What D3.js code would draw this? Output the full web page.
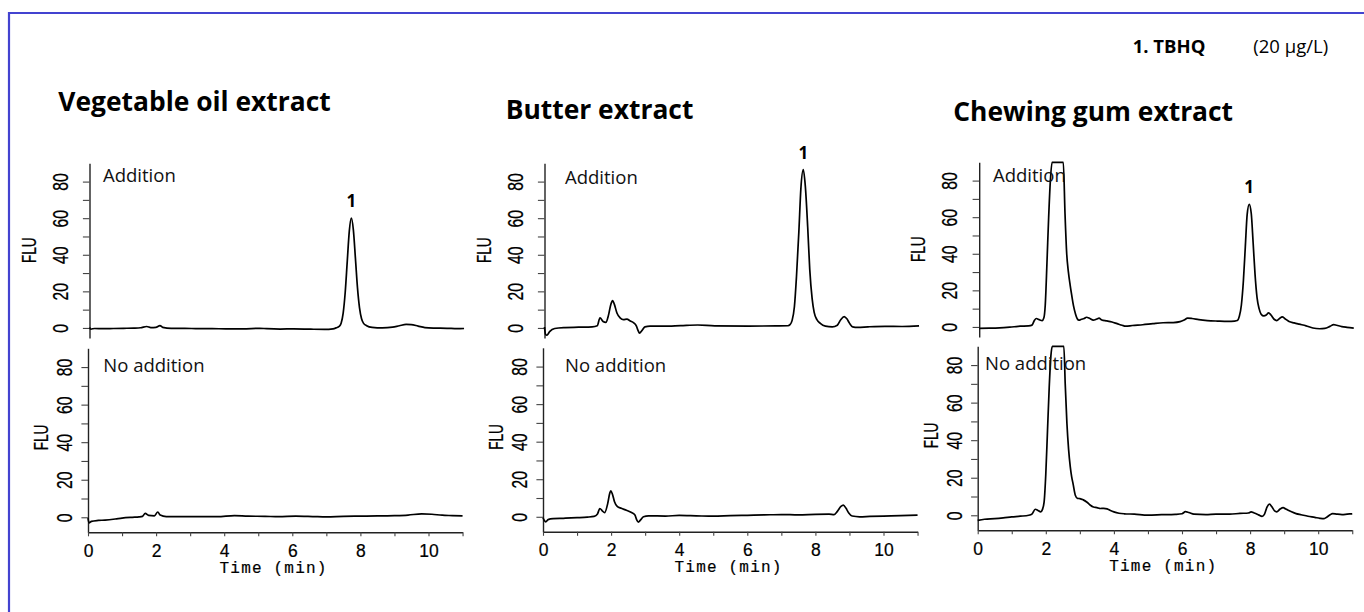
<!DOCTYPE html>
<html><head><meta charset="utf-8">
<script src="https://cdn.jsdelivr.net/npm/d3@7/dist/d3.min.js"></script>
<style>
html,body{margin:0;padding:0;background:#fff;}
svg{display:block;}
</style></head>
<body><svg id="c" width="1364" height="612"></svg>
<script>
// ---------------- DATA ----------------
const panelTitles = ["Vegetable oil extract", "Butter extract", "Chewing gum extract"];
const rowLabels = ["Addition", "No addition"];
const legendCompound = "1. TBHQ";
const legendConc = "(20 µg/L)";
const peakLabel = "1";
const peakTimes = [7.69, 7.60, 7.93];
const peakHeights = [60, 86.5, 67];
const xTickValues = [0,1,2,3,4,5,6,7,8,9,10,11];
const xTickLabels = [0,2,4,6,8,10];
const yTickValues = [0,10,20,30,40,50,60,70,80];
const yTickLabels = [0,20,40,60,80];
const xTitle = "Time (min)";
const yTitle = "FLU";

// [time (min), FLU]
const vegAdd = [[0,0.2],[0.04,-0.6],[0.15,-0.3],[0.4,-0.4],[0.7,-0.3],[1.0,-0.2],[1.3,-0.1],[1.5,0.1],[1.68,0.8],[1.8,0.2],[1.95,0.3],[2.07,1.3],[2.15,0.3],[2.4,-0.2],[2.8,-0.2],[3.2,-0.4],[3.6,-0.4],[4.0,-0.5],[4.5,-0.5],[5.0,-0.2],[5.2,-0.4],[5.6,-0.6],[6.0,-0.5],[6.5,-0.7],[6.9,-0.8],[7.15,-0.5],[7.25,0.1],[7.33,0.8],[7.39,2.6],[7.45,8.1],[7.51,19.5],[7.57,36.4],[7.63,52.9],[7.69,60],[7.75,53.5],[7.81,38],[7.87,22],[7.93,11],[7.99,5],[8.05,2.5],[8.14,1.2],[8.3,0.3],[8.6,0],[8.9,0.4],[9.1,1.2],[9.3,1.9],[9.45,1.8],[9.65,1.0],[9.85,0.2],[10.1,-0.1],[10.5,-0.2],[10.8,-0.4],[11,-0.3]];
const vegNone = [[0,-0.5],[0.03,-3],[0.1,-2.2],[0.3,-1.7],[0.5,-1.5],[0.8,-0.9],[1.0,-0.4],[1.3,0],[1.5,0.2],[1.6,0.5],[1.68,2.1],[1.78,1.0],[1.95,0.8],[2.05,2.8],[2.12,1.2],[2.3,0.4],[2.8,0.3],[3.3,0.4],[3.8,0.3],[4.3,0.9],[4.7,0.6],[5.2,0.5],[5.6,0.3],[6.1,0.6],[6.6,0.4],[7.0,0.2],[7.5,0.5],[8.0,0.6],[8.5,0.7],[9.0,0.9],[9.4,1.2],[9.8,1.8],[10.1,1.6],[10.4,1.1],[10.7,0.9],[11,0.7]];
const butAdd = [[0,0.5],[0.03,-3.5],[0.07,-4],[0.15,-2],[0.3,-0.3],[0.6,0.2],[1.0,0.4],[1.4,0.6],[1.55,1.2],[1.63,5.5],[1.72,3.5],[1.8,3],[1.88,7],[1.95,13],[2.0,15],[2.05,13],[2.13,8],[2.22,5.5],[2.32,4.5],[2.42,4.8],[2.52,3.8],[2.62,2.8],[2.7,1],[2.75,-1.5],[2.79,-2.8],[2.86,-1.5],[2.95,0.6],[3.1,1],[3.5,1],[4.0,1.3],[4.5,1.6],[5.0,1.1],[6.0,1],[6.8,1.1],[7.15,1.2],[7.21,1.8],[7.27,4],[7.34,11.7],[7.40,28],[7.47,52.5],[7.53,76.3],[7.60,86.5],[7.66,77.5],[7.73,55],[7.79,32],[7.86,16],[7.92,8.5],[8.0,4.5],[8.1,2.5],[8.25,1],[8.45,0.6],[8.6,1.5],[8.7,4.5],[8.8,6.2],[8.88,5],[8.96,2.5],[9.05,0.6],[9.2,0.3],[9.5,0.6],[10.0,0.9],[10.5,0.8],[11,1.1]];
const butNone = [[0,-0.5],[0.04,-2],[0.08,-2.7],[0.15,-1.5],[0.3,-1.0],[0.6,-0.8],[1.0,-0.5],[1.3,-0.2],[1.5,0.2],[1.6,1.5],[1.67,4.4],[1.74,3.2],[1.81,2.2],[1.9,7],[1.96,12.5],[1.99,13.8],[2.04,12],[2.1,8],[2.18,5.5],[2.3,4.5],[2.45,3.5],[2.6,2.3],[2.7,1],[2.75,-1.5],[2.8,-2.8],[2.86,-1.8],[2.95,0],[3.1,0.5],[3.6,0.4],[4.0,0.7],[4.5,0.5],[5.0,0.3],[5.5,0.6],[6.0,0.8],[6.5,1.0],[7.0,1.2],[7.5,1.0],[8.0,1.3],[8.4,1.4],[8.55,1.2],[8.65,3],[8.75,5.5],[8.82,6.2],[8.9,4.5],[8.98,2],[9.08,0.4],[9.3,0],[9.6,0.2],[10.0,0.4],[10.5,0.6],[11,0.9]];
const gumAdd = [[0,-0.8],[0.3,-0.7],[0.6,-0.5],[0.9,-0.1],[1.2,0.4],[1.45,0.6],[1.55,1],[1.62,3.5],[1.68,4.6],[1.76,4],[1.85,3.5],[1.9,5],[1.94,12],[1.99,35],[2.04,60],[2.09,80],[2.14,92],[2.3,100],[2.47,95],[2.52,62],[2.57,40],[2.62,30],[2.67,23],[2.72,17],[2.77,11.5],[2.83,7],[2.88,4.5],[2.93,3.7],[3.0,4.2],[3.08,4.6],[3.15,5.3],[3.25,4.6],[3.35,3.7],[3.45,4.3],[3.52,4.8],[3.6,3.8],[3.75,3.3],[3.9,2.7],[4.05,1.8],[4.2,0.9],[4.3,0.4],[4.5,0.8],[4.8,1.2],[5.1,1.8],[5.4,2.3],[5.7,2.4],[5.9,2.9],[6.02,3.8],[6.12,4.8],[6.25,4.6],[6.45,4],[6.7,3.5],[7.0,3.2],[7.3,3.0],[7.5,3.2],[7.58,3.5],[7.64,5.8],[7.70,12],[7.76,25.5],[7.815,43.7],[7.87,61.5],[7.93,67],[7.99,62],[8.045,46],[8.10,29],[8.16,16],[8.22,10],[8.28,7],[8.36,6],[8.43,6.5],[8.5,7.7],[8.57,6.5],[8.66,4.2],[8.74,3.5],[8.82,4.6],[8.9,5.5],[8.98,4.5],[9.1,3],[9.25,2.2],[9.4,1.5],[9.6,0.6],[9.8,-0.6],[10.0,-1],[10.15,-0.8],[10.3,0.3],[10.41,1.3],[10.5,0.9],[10.65,0.2],[10.8,-0.2],[11,-0.6]];
const gumNone = [[0,-2.7],[0.2,-2.1],[0.5,-1.8],[0.75,-1.4],[1.0,-0.9],[1.25,-0.5],[1.5,0],[1.6,0.8],[1.69,3.2],[1.77,2.6],[1.85,1.8],[1.9,3],[1.95,7],[2.0,22],[2.05,45],[2.1,68],[2.15,85],[2.19,95],[2.35,100],[2.53,95],[2.57,70],[2.62,49],[2.67,35],[2.72,25.7],[2.76,20.5],[2.8,16.9],[2.87,10.5],[2.93,9],[3.0,8.9],[3.1,8.2],[3.2,7.1],[3.3,5.5],[3.4,4.4],[3.5,4.1],[3.6,3.6],[3.7,3.7],[3.8,3.4],[3.9,2.5],[4.0,1.8],[4.15,1.1],[4.3,0.8],[4.6,0.6],[5.0,0.1],[5.4,0.3],[5.8,0.5],[6.0,0.8],[6.1,1.9],[6.2,1.5],[6.35,0.6],[6.7,0.4],[7.0,0.6],[7.4,0.6],[7.7,1.0],[7.95,1.2],[8.03,1.8],[8.12,1.2],[8.25,0.2],[8.35,-0.6],[8.42,0.5],[8.5,4.5],[8.57,5.9],[8.64,4.5],[8.72,2.3],[8.78,1.8],[8.88,3.3],[8.97,4.1],[9.05,3.3],[9.2,2],[9.35,0.9],[9.5,0.3],[9.7,-0.5],[9.9,-1.1],[10.05,-1.6],[10.16,-1.8],[10.25,-1],[10.35,0.3],[10.42,0.9],[10.55,0.6],[10.7,0.4],[10.85,0.6],[11,0.8]];

const traces = [[vegAdd, vegNone], [butAdd, butNone], [gumAdd, gumNone]];

// ---------------- LAYOUT ----------------
const svg = d3.select("#c");
const pxPerMin = 34.05;
const panelX0 = [88.0, 543.0, 977.7];
const rowCfg = [
  {dom:[-5.5, 90], rng:[338, 163.3], dx:1.5, labOff:-22, fluOff:-54},
  {dom:[-8, 90], rng:[532.3, 348.3], dx:0, labOff:-16, fluOff:-40}
];
const panelDy = [[0,0],[0,-0.5],[-1,-2]];
const titlePos = [[58.3,111],[505.7,118.5],[953.3,120.5]];
const rowLabelPos = [[[103,182],[103.3,372]],[[565,184],[565,372]],[[993,182],[985,370]]];

// frame
svg.append("path").attr("d","M9,612V13H1364").attr("fill","none")
  .attr("stroke","#4343d0").attr("stroke-width",2.2);

// legend
svg.append("text").attr("x",1132.7).attr("y",52.7).text(legendCompound)
  .attr("font-family","'Open Sans', sans-serif").attr("font-weight","bold").attr("font-size",18.5).attr("fill","#000");
svg.append("text").attr("x",1253.3).attr("y",53).text(legendConc)
  .attr("font-family","'Open Sans', sans-serif").attr("font-size",18.5).attr("fill","#000");

const line = (xs, ys) => d3.line().x(d => xs(d[0])).y(d => ys(d[1])).curve(d3.curveMonotoneX);

panelTitles.forEach((title, p) => {
  svg.append("text").attr("x", titlePos[p][0]).attr("y", titlePos[p][1]).text(title)
    .attr("font-family","'Open Sans', sans-serif").attr("font-weight","bold")
    .attr("font-size",26.4).attr("fill","#000");

  rowCfg.forEach((rc, r) => {
    const dy = panelDy[p][r];
    const x0 = panelX0[p] + rc.dx;
    const xs = d3.scaleLinear().domain([0, 11]).range([x0, x0 + 11 * pxPerMin]);
    const ys = d3.scaleLinear().domain(rc.dom).range([rc.rng[0] + dy, rc.rng[1] + dy]).clamp(true);
    const g = svg.append("g");

    // y axis
    const ya = g.append("g").attr("transform", `translate(${x0},0)`)
      .call(d3.axisLeft(ys).tickValues(yTickValues).tickSize(6.6).tickSizeOuter(0)
        .tickFormat(d => yTickLabels.includes(d) ? d : ""));
    ya.select(".domain").attr("stroke","#222").attr("stroke-width",1.4);
    ya.selectAll(".tick line").attr("stroke","#444").attr("stroke-width",1.1);
    ya.selectAll(".tick text")
      .attr("x", null).attr("dy", null).attr("text-anchor","middle")
      .attr("transform", `translate(${rc.labOff},0) rotate(-90) scale(0.7,1)`)
      .attr("font-family","'Liberation Sans', Arial, sans-serif").attr("font-size",22.5)
      .attr("fill","#000").attr("stroke","#000").attr("stroke-width",0.25);

    // y title
    g.append("text").attr("transform", `translate(${x0 + rc.fluOff},${ys(42.5)}) rotate(-90) scale(0.7,1)`)
      .attr("text-anchor","middle").text(yTitle)
      .attr("font-family","'Liberation Sans', Arial, sans-serif").attr("font-size",19.5)
      .attr("fill","#000").attr("stroke","#000").attr("stroke-width",0.25);

    // x axis on lower row
    if (r === 1) {
      const axY = ys(rc.dom[0]);
      const xa = g.append("g").attr("transform", `translate(0,${axY})`)
        .call(d3.axisBottom(xs).tickValues(xTickValues).tickSize(4).tickSizeOuter(0)
          .tickFormat(d => xTickLabels.includes(d) ? d : ""));
      xa.select(".domain").attr("stroke","#222").attr("stroke-width",1.4);
      xa.selectAll(".tick line").attr("stroke","#444").attr("stroke-width",1.1);
      xa.selectAll(".tick text").attr("y", 24.5).attr("dy", null)
        .attr("font-family","'Liberation Sans', Arial, sans-serif").attr("font-size",17.5)
        .attr("fill","#000").attr("stroke","#000").attr("stroke-width",0.2);
      g.append("text").attr("x", xs(5.45)).attr("y", axY + 40.5).attr("text-anchor","middle")
        .text(xTitle).attr("font-family","'Liberation Mono', 'DejaVu Sans Mono', monospace")
        .attr("font-size",16).attr("letter-spacing","1.2px")
        .attr("fill","#000").attr("stroke","#000").attr("stroke-width",0.2);
    }

    // trace
    g.append("path").datum(traces[p][r]).attr("d", line(xs, ys))
      .attr("fill","none").attr("stroke","#000").attr("stroke-width",1.7).attr("stroke-linejoin","round");

    // row label
    g.append("text").attr("x", rowLabelPos[p][r][0]).attr("y", rowLabelPos[p][r][1]).text(rowLabels[r])
      .attr("font-family","'Open Sans', sans-serif").attr("font-size",18.5).attr("fill","#111");

    // peak label on addition row
    if (r === 0) {
      g.append("text").attr("x", xs(peakTimes[p])).attr("y", ys(peakHeights[p]) - 11)
        .attr("text-anchor","middle").text(peakLabel)
        .attr("font-family","'Open Sans', sans-serif").attr("font-weight","bold").attr("font-size",17).attr("fill","#000");
    }
  });
});
</script>
</body></html>
